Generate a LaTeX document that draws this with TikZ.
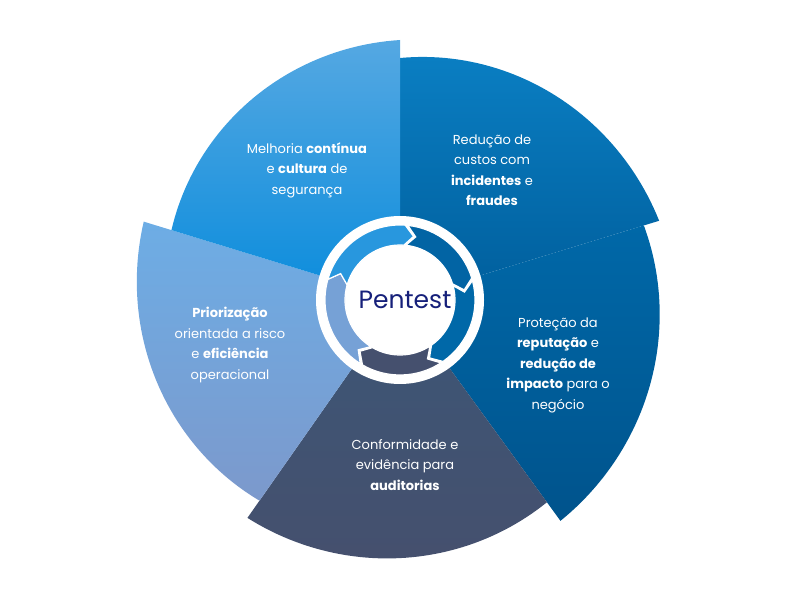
\documentclass[tikz,border=0pt]{standalone}
\usepackage{fontspec}
\setmainfont{Poppins}
\usepackage{tikz}
\definecolor{tlblue}{HTML}{0A8CDC}
\definecolor{tllight}{HTML}{55A8E2}
\definecolor{trdark}{HTML}{005E9C}
\definecolor{trlight}{HTML}{0A7EC2}
\definecolor{rtdark}{HTML}{00538C}
\definecolor{rtlight}{HTML}{0068A8}
\definecolor{btslate}{HTML}{3C5676}
\definecolor{btnavy}{HTML}{45506E}
\definecolor{lflight}{HTML}{6DADE5}
\definecolor{lfgrey}{HTML}{7C99CC}
\definecolor{pentestnavy}{HTML}{16207A}

\tikzset{
  label text/.style={text=white, align=center, font=\fontsize{13}{20.5}\selectfont},
  ring seg/.style={draw=white, line width=1.2pt}
}

\begin{document}
\begin{tikzpicture}[x=1pt, y=1pt]
    \useasboundingbox (0,0) rectangle (800,600);
    \coordinate (C) at (400,300);

    % Sectors
    \begin{scope}[shift={(C)}]
    \foreach \ah/\al/\rh/\rl/\ca/\cb in {
        90/17/242/271/trdark/trlight,
        17/-54/255/273/rtdark/rtlight,
        -54/-125/250/266/btnavy/btslate,
        235/163/245/268/lfgrey/lflight,
        163/90/239/260/tlblue/tllight} {
        \path[bottom color=\ca, top color=\cb]
            (0,0) -- plot[domain=\ah:\al, samples=50]
            (\x:{\rh+(\rl-\rh)*(\ah-\x)/(\ah-\al)}) -- cycle;
    }

    % Centre disc and ring
    \fill[white] (0,0) circle (84);
    \foreach \a/\b/\col in {
        84/17/trdark!80!trlight,
        15/-55/rtlight,
        -57/-120/btnavy,
        -122/-196/lfgrey!60!lflight,
        164/86/tllight!40!tlblue} {
        \path[ring seg, fill=\col]
            (\a:75) arc[start angle=\a, end angle=\b, radius=75]
            -- (\b-8:65) -- (\b:55)
            arc[start angle=\b, end angle=\a, radius=55]
            -- (\a-8:65) -- cycle;
    }
    \fill[white] (0,0) circle (54);
    \end{scope}

    \node[text=pentestnavy, font=\fontsize{25}{30}\selectfont] (center) at (405,300) {Pentest};

    % Labels
    \node[label text] (improve) at (307,430) {Melhoria \textbf{contínua}\\e \textbf{cultura} de\\segurança};
    \node[label text] (costs) at (492,430) {Redução de\\custos com\\\textbf{incidentes} e\\\textbf{fraudes}};
    \node[label text] (reput) at (558,235) {Proteção da\\\textbf{reputação} e\\\textbf{redução de}\\\textbf{impacto} para o\\negócio};
    \node[label text] (audit) at (405,135) {Conformidade e\\evidência para\\\textbf{auditorias}};
    \node[label text] (prior) at (230,255) {\textbf{Priorização}\\orientada a risco\\e \textbf{eficiência}\\operacional};
\end{tikzpicture}
\end{document}
